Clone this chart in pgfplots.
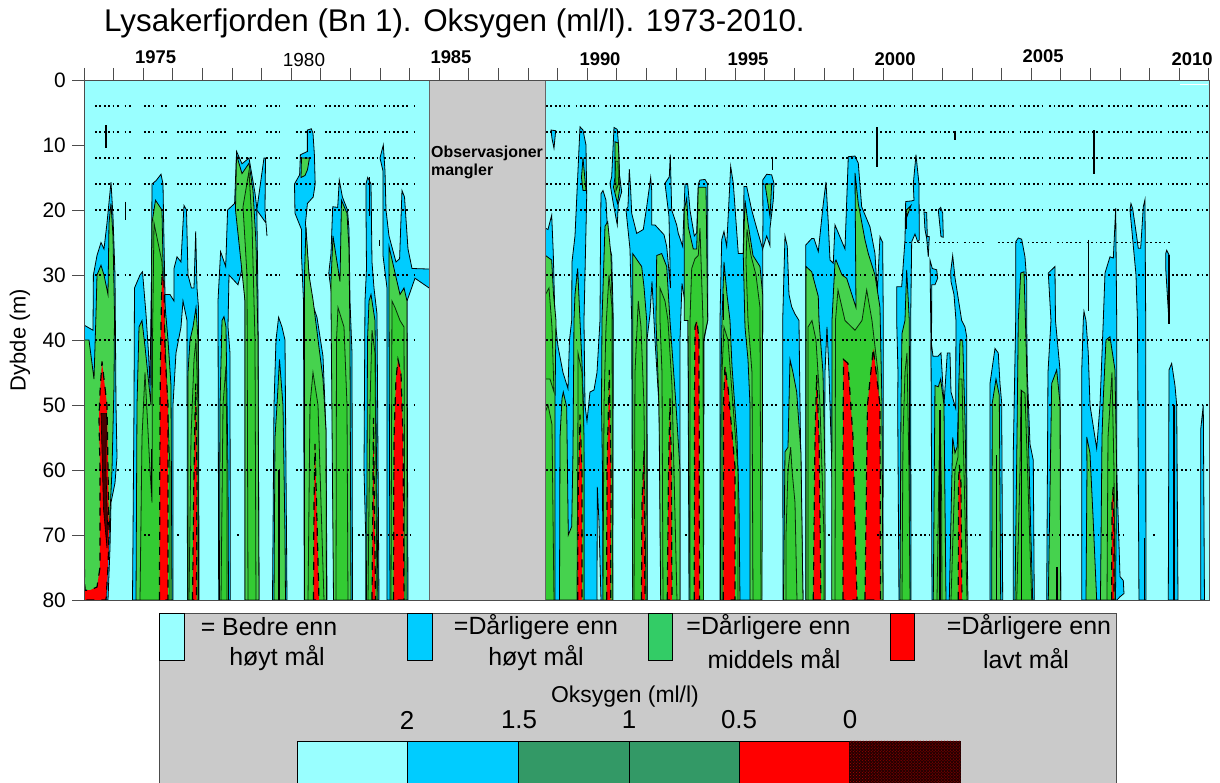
\documentclass[border=0pt]{standalone}
\usepackage{fontspec}
\setmainfont{Liberation Sans}
\usepackage{pgfplots}
\pgfplotsset{compat=1.18}
\usetikzlibrary{patterns}
\definecolor{cy}{HTML}{99FFFF}
\definecolor{bl}{HTML}{00CCFF}
\definecolor{gl}{HTML}{46D24E}
\definecolor{gd}{HTML}{33CC33}
\definecolor{rd}{HTML}{FF0000}
\definecolor{gy}{HTML}{CACACA}
\definecolor{lg}{HTML}{33CC66}
\definecolor{bg}{HTML}{339966}
\newcommand\fs[1]{\fontsize{#1}{#1}\selectfont}
% contour polygons: x read in pixels of the year scale (84 = 1973, 29.6 per year), y depth in m
\newcommand\Bl[1]{\addplot[fill=bl,draw=black,line width=0.8bp,forget plot] coordinates {#1} --cycle;}
\newcommand\Cy[1]{\addplot[fill=cy,draw=black,line width=0.8bp,forget plot] coordinates {#1} --cycle;}
\newcommand\Gl[1]{\addplot[fill=gl,draw=black,line width=0.8bp,forget plot] coordinates {#1} --cycle;}
\newcommand\Gd[1]{\addplot[fill=gd,draw=black!80!gd,line width=0.8bp,forget plot] coordinates {#1} --cycle;}
\newcommand\Rd[1]{\addplot[fill=rd,draw=black,line width=1.2bp,dash pattern=on 8bp off 7bp,forget plot] coordinates {#1} --cycle;}
\newcommand\Bk[1]{\addplot[black,line width=1.1bp,forget plot] coordinates {#1};}
\tikzset{dotrow/.style={black,line width=1.4bp,dash pattern=on 1.8bp off 2.6bp on 1.8bp off 2.6bp on 1.8bp off 2.6bp on 1.8bp off 2.6bp on 1.8bp off 2.6bp on 1.8bp off 5.8bp}}
\newcommand\Dt[3]{\addplot[dotrow,forget plot] coordinates {(#1,#3)(#2,#3)};}
\begin{document}
\begin{tikzpicture}[x=1bp,y=1bp]
\useasboundingbox (0,0) rectangle (1220,783);
\begin{axis}[
  at={(84bp,183bp)},anchor=south west,
  width=1125bp,height=520bp,scale only axis,
  xmin=1973,xmax=2011,ymin=0,ymax=80,y dir=reverse,
  x filter/.expression={1973+(x-84)/29.605},
  axis background/.style={fill=cy},
  axis on top,
  xtick={1973,1974,...,2011},xticklabels={,,},
  ytick={0,10,...,80},
  tick align=outside,major tick length=12bp,
  xtick pos=upper,ytick pos=left,
  tick style={draw=black!70,line width=0.8bp},
  axis line style={draw=black!70,line width=0.9bp},
  yticklabel style={font=\fs{21},inner sep=0pt,xshift=-6bp},
  /pgf/number format/assume math mode=true,
]
% ---------- blue: worse than high target
\Bl{(84,37.7)(93,38.5)(93.4,30)(97,27)(101,25)(104,26)(107,22)(111,15.7)(113,21)(115,30)(116,50)(117,58)(115,62)(111,65)(110,72)(108,80)(84,80)}
\Bl{(132.5,80)(134,50)(134.5,32)(140,30)(142.5,29.5)(146,36)(148.5,42)(150,47)(151.5,30)(152,16)(156,15.5)(161,14.5)(163,16)(164,25)(165,33)(165,80)}
\Bl{(199,80)(187.5,80)(187,37)(183,34)(181,38)(176,42)(173,50)(173,80)(165,80)(165,33)(170,33)(174,34)(174,29)(177,27.2)(181,28)(182,25)(184,19.3)(186.5,20)(188,30)(191.4,32)(194,32)(195.7,23.3)(197,32)(198.5,35)}
\Bl{(218.7,80)(218,34)(220.6,26.4)(225.7,28.7)(227.6,20)(234.6,19)(236.6,11)(242,12.9)(249,12)(255,17.4)(256.8,19.7)(258,34)(259,80)(245,80)(245,34)(243,28.5)(238,31.5)(229,30)(228,38)(230,42)(230.3,80)}
\Bl{(264,12)(265.5,12)(265,20)(267,24)(266,22)(256.8,20)}
\Bl{(272.5,80)(274,50)(276,40)(278.6,36.5)(282,38)(285,40)(287,80)}
\Bl{(304.3,80)(303.5,34)(301.5,27)(301.5,23)(295,20.5)(294.5,16)(299.6,14.6)(300.4,11.5)(307.4,11)(307.4,7.7)(311.3,7.5)(313,8.2)(314.4,11.5)(315.2,16)(313.2,18)(307.4,19)(305.5,22)(307,26)(311,33.8)(317,36.5)(323,42.5)(326,54)(327,80)}
\Bl{(333.8,80)(332.5,34)(328.8,29.7)(331,26.7)(332.7,19.5)(337.7,19.6)(339.3,15.4)(342.4,18)(347.5,20)(349,23)(350,34)(352,42)(352.5,80)}
\Bl{(365.7,80)(365.7,70)(364,60)(365,34)(366.5,29)(366,20)(366,16)(367.7,15)(371,16)(372,28)(374,32)(377,36)(379,80)}
\Bl{(387,80)(387,40)(387,32)(383,27)(383,14)(380,12)(383.3,10)(385,14)(386,20)(389,24)(396,28)(399.6,27.5)(402,17)(404.5,18)(408,26)(412,29)(432,29.1)(432,32.3)(415,30.5)(410,32.7)(407,34)(408,80)}
\Bl{(551,7.7)(555.7,7.8)(554,10.5)(552,9)}
\Bl{(545.5,22.8)(548,23)(551.7,20.8)(553.3,26.7)(555,37)(558,41)(563,45)(568,47.5)(569.5,40)(571.7,37)(572,28)(575,24)(580,7.2)(583,7.7)(586,10)(586.7,18)(584,37)(585,50)(587,52.5)(590,48)(594,47.7)(597,45)(600,37)(600.5,25)(601,17.5)(603,17)(606,18.5)(608,24.6)(611.7,27)(613.3,37)(612.7,80)(545.5,80)}
\Cy{(597,80)(597.3,62.6)(599,68)(601,80)}
\Bl{(614,7.3)(617.3,7.6)(618.7,10.3)(619.3,14.4)(621.7,17.2)(618.3,19)(617.3,22.3)(613.3,19)(610,15.9)(611.7,14.9)}
\Bl{(632.7,80)(631.7,37)(630,26)(626,20)(628,19.5)(629.3,13.7)(630.7,17)(631.7,20.5)(636.7,23.6)(643.3,23)(646.7,19.5)(650.7,15)(651.7,17)(651.7,22.3)(655,22.3)(664,23.8)(666.7,25.6)(670.5,32)(669,21)(665,15.9)(669.3,14.9)(670.3,11.5)(671.7,20)(676.7,22.3)(678.3,23.6)(682.7,25.6)(685,16)(687.7,16)(690,20)(694.3,24)(696.7,23.5)(698.3,16)(700,15.4)(705,15.3)(707.7,16)(707.7,37)(704,40)(703.5,80)(689,80)(688,37)(682,31.3)(680,40)(680,80)(660.7,80)(660,60)(659,50)(655,40)(652,31)(650,36)(647,40)(647.3,80)}
\Bl{(720,80)(720,37)(721.7,24.6)(724,23.3)(726.7,25.6)(730.7,13.3)(733.3,15.9)(738.3,26.7)(743.3,26.7)(744,16.4)(746.7,16.4)(751.7,20)(756.7,22.8)(762.7,26)(762.7,37)(761,80)}
\Bl{(762.7,26)(763,21)(762.7,15.4)(766.7,14.5)(771.7,14.6)(774,15.9)(773.3,18.5)(770,22.8)(770,25.5)(766.7,24)}
\Bl{(783,80)(782.7,37)(785,24)(787.3,25.6)(789,33)(791.7,34.9)(795,36)(799,37)(800,50)(803,80)}
\Bl{(805.7,80)(805.7,25.4)(811.7,24.4)(814,24.4)(818.3,26.4)(823.3,19)(826,15.7)(828.3,22)(830,27.7)(833.3,28.2)(835,22.3)(845,26)(848.3,11.8)(855,11.7)(858.3,12.8)(861.7,19.5)(870,22.6)(875,26.7)(877.3,32.8)(880,24.1)(882.7,25)(883.3,37)(883,80)(835,80)(832,60)(829,45)(827,38)(825,45)(824.7,55)(825,80)}
\Bl{(899,80)(897.7,50)(898,45)(896.7,37)(896.7,31.8)(901.7,31.8)(905,24.6)(905.7,18.7)(911.7,18.6)(914,18.5)(913.3,16)(916,11.5)(919,16)(919.3,24.6)(917.7,24.9)(915,23.7)(911.7,24.9)(910.7,37)(911,80)}
\Bl{(924,20.3)(926.7,20.4)(927.3,24.1)(929.3,24.1)(928.3,27.2)(926.7,24.4)(925,23)}
\Bl{(938.3,20)(940.7,19.6)(942.7,20.5)(943.3,24.2)(941,24.1)}
\Bl{(930,27.7)(932.3,29)(936.7,29.2)(937.7,30.5)(935,31.5)(931.7,31.5)(931.5,45)(931,40)}
\Bl{(950.7,29.5)(952.7,27)(955,30.4)(961.7,37)(965,38)(966.7,39.5)(967,80)(932,80)(931,40)(933,42.5)(938,42.5)(941,42)(944,50)(947.3,42)(950,42)(951,48)(955.7,50.5)(956,37)(954,33)(951,31)}
\Bl{(990,80)(990,46.7)(995,41.3)(998.3,42)(1000,46.7)(1001.7,49.7)(1002.7,80)}
\Bl{(1013.3,80)(1013.3,57.4)(1015.7,37)(1015.7,24.9)(1018.3,24.3)(1021.7,24.5)(1025,27.2)(1026.7,30.8)(1026.7,37)(1027.3,45)(1030,56)(1033.3,58.5)(1034.3,80)}
\Bl{(1046.7,80)(1048,45)(1051,37)(1048.3,29.7)(1055,28.7)(1055.5,37)(1060,44.6)(1060.7,80)}
\Bl{(1081.7,80)(1081.7,45)(1083.3,37)(1084,35.6)(1086,37)(1088.3,42)(1090,50)(1096.7,56.7)(1100,50)(1103.3,37)(1105,29.7)(1110,27.2)(1113.3,27.4)(1115.7,19.7)(1116.7,37)(1116.7,60)(1120,76.4)(1123.3,77)(1124,79)(1120,79.5)(1117,80)}
\Bl{(1130,20)(1131,19)(1132.7,19.8)(1136.7,24.1)(1138.3,25.9)(1140.7,25.9)(1143.3,19.5)(1145,18.4)(1145.7,37)(1146,80)(1139,80)(1137.5,37)(1136,30)}
\Bl{(1165.7,26.7)(1166.7,26.2)(1169.3,27)(1169.3,36.5)(1168.7,36.5)(1165.7,29)}
\Bl{(1168.3,80)(1169,44.6)(1171.7,43.6)(1175,47)(1176.7,50)(1178,80)}
\Bl{(1200.7,80)(1200.7,53.8)(1203.3,50)(1204.5,80)}
% ---------- green: worse than middle target
\Gl{(84,40)(89,40)(94,46)(96,36)(97,30)(101,28.5)(104,30)(108,33)(109,22)(111,19)(113,24)(114.5,36)(114,47)(112,60)(109,70)(106,80)(84,80)}
\Gl{(136,80)(137,50)(139,38)(142,37)(145,41)(149,47)(151,50)(151.5,35)(152,22)(155.5,18.5)(162,20)(163.5,32)(168,40)(171,47)(172,80)}
\Gl{(188,80)(188,45)(190,40)(193,38)(196,35)(198,40)(198.5,80)}
\Gl{(219.5,80)(220,50)(222,37)(224,36.4)(226,38)(228,60)(228.5,80)}
\Gl{(235.5,20)(241,28)(245,34)(245,80)(259,80)(258,40)(256,25)(253,17)(249,12.8)(242,14.4)(236.5,11.5)}
\Gl{(274,80)(275,55)(277,50)(279.5,43)(283,50)(285,70)(285.5,80)}
\Gl{(301.5,12)(309.5,12)(307.5,13.8)(305,14.7)(301,15)}
\Gl{(304.5,80)(304.5,30)(306,22.6)(309,30)(313,33.8)(323,46)(326,54)(326.5,80)}
\Gl{(333.5,80)(331,34)(331,31)(333,24)(340,31)(341.5,18.5)(347,20.5)(349,26)(350,40)(351,80)}
\Gl{(366.5,80)(367,60)(367.5,40)(369,34)(371,33)(375,37)(378,80)}
\Gl{(390,80)(389,34)(389,25.6)(397,31)(400,33)(404,32)(407,34)(407,80)}
\Gl{(545.5,27)(551.7,27.7)(553.5,33)(556,37)(555,50)(555,80)(545.5,80)}
\Gl{(559.5,80)(560,55)(562,49)(563.3,48)(566.7,50.3)(568.3,70)(571.7,68.7)(573,57)(574,37)(575,33)(577.7,29)(580,37)(582,43.6)(583.5,50)(584,60)(584,80)}
\Gl{(581.5,15)(583,12)(586,17)(583,17)}
\Gl{(602,37)(605,22.5)(607.7,21.8)(611,27)(612.7,37)(612.7,80)(603,80)(602.5,60)(601.5,50)}
\Gl{(615,9.5)(618.3,9.7)(620,16.4)(617.5,19)(613.5,16.5)(615,15)}
\Gl{(632.7,26.7)(641.7,28.7)(644,31.8)(646.7,37)(647,80)(632.7,80)}
\Gl{(660.7,80)(659,50)(656,37)(656.7,27)(661.7,26.7)(666.7,28.7)(670,37)(676,50)(680,60)(680,80)}
\Gl{(684.3,37)(684.3,20)(686.7,18.2)(688.3,22.6)(693.3,26)(696.7,26)(698.3,16.5)(706,16.5)(707.7,37)(703.5,40)(703.5,80)(690,80)(688,37)}
\Gl{(720.5,80)(721,45)(722,37)(724,28)(727,33)(730,37)(732,44)(737,55)(739,65)(740,80)}
\Gl{(750,80)(750,50)(748,43)(745,38)(743.3,27)(745,18.5)(748,22)(753,27)(760,28.7)(762.7,33)(762,80)}
\Gl{(765,16)(771.7,16)(770,21)(767,18)}
\Gl{(783.5,80)(785,57.2)(788,56.5)(790,43)(793,45)(796.7,48)(801,57.5)(803,80)}
\Gl{(806,80)(806,28.7)(811.7,29.5)(818.3,33.3)(819,37)(823,45)(825,60)(825,80)}
\Gl{(831.7,80)(832,37)(835,28)(836,27.7)(842,30)(846.7,30.5)(856,35)(855,14.3)(858.3,19)(865,24.6)(868.3,26.7)(875,30)(880,35)(882,50)(883,80)}
\Gl{(900,80)(901,50)(902,39)(905,37)(906.7,29.2)(909.3,37)(910,80)}
\Gl{(906.5,20)(911,19.3)(907,21)}
\Gl{(933.3,80)(935,47)(938.3,47.2)(940.7,46)(944,50)(946,80)}
\Gl{(949.3,80)(952.7,55)(955,57.4)(957.3,56.4)(960,40)(962.7,40)(965,52)(968,80)}
\Gl{(991.7,80)(992.3,49.7)(996,46)(999.3,48.5)(1000.7,80)}
\Gl{(1015,80)(1017,55)(1018.3,37)(1020.7,29.7)(1024,29.5)(1026,40)(1030,65)(1032.7,80)}
\Gl{(1048.3,80)(1051.7,46.7)(1056.7,44.6)(1060,49.7)(1060.7,80)}
\Gl{(1086,80)(1087,60)(1086.7,54.9)(1090,57.4)(1093,67)(1096.7,80)}
\Gl{(1100.5,80)(1102,55)(1103.3,49)(1106,40)(1110,39.5)(1115,44.6)(1116.7,60)(1115.5,80)}
% ---------- darker green bands
\Gd{(140,80)(142,55)(145,45)(150,60)(152,65)(152.5,40)(154,22)(162,28)(165,40)(170,60)(170,80)}
\Gd{(189,80)(191,55)(194,43)(196,40)(198,50)(198,80)}
\Gd{(221,80)(223,50)(226,44)(227,60)(227,80)}
\Gd{(248,80)(247,30)(243,19.5)(249,14)(252,22)(255,40)(256,80)}
\Gd{(308,80)(310,50)(313,45)(318,50)(324,80)}
\Gd{(336,80)(336.5,40)(338,35)(344,38)(347,50)(348,80)}
\Gd{(368,80)(370,50)(372,38.5)(375,42)(377,80)}
\Gd{(391,80)(392,34)(395,35)(400,37)(404,38)(405,80)}
\Gd{(545.5,33)(549,32)(552,38)(554,48)(550,46)(545.5,46)}
\Gd{(545.5,80)(545.5,51)(548,50)(552,53)(554,80)}
\Gd{(577,80)(578,50)(578,42)(582,45)(584,55)(584,80)}
\Gd{(603,80)(604,50)(606,38)(609,30)(612,35)(612.7,80)}
\Gd{(615.5,12.5)(618,12.5)(618.5,16)(616,17)}
\Gd{(634,80)(635,45)(638.3,34)(641,38)(644,50)(646,80)}
\Gd{(663,80)(662,45)(660,37)(660,32)(665,34)(668,37)(672,47)(677,80)}
\Gd{(690,80)(690,37)(691.7,29)(695,27.5)(698.3,27)(700,22.8)(703,37)(703.5,80)}
\Gd{(722,80)(722,45)(724,38)(728,40)(733,50)(738,60)(738,80)}
\Gd{(753,80)(752,45)(748,37)(746,28)(747,23)(751,27)(756,30)(760,35)(761,80)}
\Gd{(786,80)(786,70)(788,60)(790.7,56.5)(792,60)(795,65)(797,80)}
\Gd{(808,80)(808,38)(812,37)(816,40)(820,50)(824,70)(824,80)}
\Gd{(835,80)(835.5,37)(838,32.3)(845,37)(855,38.5)(862,37)(866.7,32.3)(872,37)(878,45)(880,80)}
\Gd{(902,80)(903,55)(905,45)(907,42)(909,60)(910,80)}
\Gd{(937,80)(939,60)(940,50.8)(941.7,65)(942,80)}
\Gd{(951,80)(955,60)(958,58)(959,46)(962,46)(964,60)(967,80)}
\Gd{(1016.7,80)(1020,60)(1021,47.7)(1025,48.2)(1028,62)(1031.7,80)}
\Gd{(1107,80)(1108,55)(1112,45)(1114,60)(1115,80)}
% ---------- red: worse than low target
\Rd{(84,73)(85,78.5)(90,78.5)(97,78)(100,75)(100,60)(99,52)(100,48)(102,43.3)(104,46)(107,50)(108,60)(109,70)(108,75)(106,80)(84,80)}
\Rd{(159.5,80)(160,50)(161,38)(162,30)(164,31)(165,42)(168,50)(168,80)}
\Rd{(192.5,80)(194,60)(195.7,46.7)(197,60)(196.5,80)}
\Rd{(313.5,80)(314,65)(315,56)(316.5,65)(319,80)}
\Rd{(372,80)(373.5,52)(375.5,80)}
\Rd{(393.5,80)(394,55)(396,46)(398,43)(401,45)(403,55)(404,80)}
\Rd{(577.7,80)(578,65)(580,51.5)(582,60)(582,80)}
\Rd{(606.7,80)(607,60)(609.3,44.6)(611,60)(610.7,80)}
\Rd{(641.5,80)(642,65)(644,57)(645,80)}
\Rd{(667.3,80)(668.5,60)(670,49)(671.5,60)(672,80)}
\Rd{(694.3,80)(694.5,50)(695,38)(697,37)(699,40)(699.5,80)}
\Rd{(723.3,80)(723.5,50)(725,44)(728.3,47.7)(730.7,52)(735,59.5)(735,80)}
\Rd{(813.3,80)(815,55)(816.7,45.4)(819,55)(821,80)}
\Rd{(843,80)(843,60)(843.5,43)(848,43.6)(853,55)(857,80)}
\Rd{(865,80)(867.5,50)(873.3,41.3)(880,50)(880.5,80)}
\Rd{(958.3,80)(958.5,62)(959.3,59.2)(961,62)(962,80)}
\Rd{(1111.7,80)(1112,65)(1113.3,62.6)(1114,70)(1114,80)}
% below zero
\addplot[fill=black!70!rd,draw=black,line width=0.6bp,forget plot] coordinates {(101,51.3)(106.5,51.3)(106,60)(107.5,68)(107,72)(103.5,66)} --cycle;
% ---------- single-sample contours
\Bk{(106,7)(106,10.5)} \Bk{(125.7,18.7)(125.7,21.5)} \Bk{(151.8,56.7)(151.8,63.5)} \Bk{(279,60)(279,80)}
\Bk{(369.7,15)(369.7,21)} \Bk{(379.4,24.6)(379.4,25.5)} \Bk{(772.3,11.8)(772.3,13.8)} \Bk{(877,7.3)(877,13.4)}
\Bk{(955,7.8)(955,9.2)} \Bk{(1094,7.7)(1094,14.5)} \Bk{(1088.5,24.6)(1088.5,35.6)} \Bk{(906,20.5)(906,23)}
\Bk{(996.7,57.7)(996.7,80)} \Bk{(1021.5,47.7)(1021.5,80)} \Bk{(1057,74.9)(1057,80)} \Bk{(940,50.8)(940,80)}
\Bk{(1174,50)(1174,80)} \Bk{(1144.5,70.5)(1144.5,80)} \Bk{(1169,27)(1169,37.5)} \Bk{(723.3,33)(723.3,37)}
% ---------- sample rows
\pgfplotsinvokeforeach{4,8,12,16,20,30,40,50,60}{
\Dt{95}{132}{#1}\Dt{144}{154}{#1}\Dt{161}{167}{#1}\Dt{177}{228}{#1}\Dt{237}{257}{#1}\Dt{266}{280}{#1}\Dt{296}{315}{#1}\Dt{325}{414}{#1}
\Dt{546}{1208}{#1}
}
\Dt{905}{985}{25}\Dt{998}{1170}{25}
\Dt{144}{150}{70}\Dt{177}{179}{70}\Dt{237}{239}{70}\Dt{358}{414}{70}\Dt{577}{595}{70}\Dt{685}{687}{70}\Dt{828}{830}{70}\Dt{877}{983}{70}\Dt{1000}{1123}{70}\Dt{1153}{1155}{70}
\addplot[white,line width=1.2bp,forget plot] coordinates {(1180,0.7)(1208,0.7)};
% ---------- period without observations
\addplot[fill=gy,draw=black!60,line width=0.9bp,forget plot] coordinates {(429.7,0)(545.5,0)(545.5,80)(429.7,80)} --cycle;
\end{axis}
% title and year labels
\node[anchor=base west,inner sep=0pt,font=\fs{31.5}] at (104,751) {Lysakerfjorden (Bn 1). Oksygen (ml/l). 1973-2010.};
\foreach \x/\y/\t in {155.6/57/1975,451/57/1985,600/59/1990,748/59/1995,895/59/2000,1043/56/2005,1192/59/2010}
  \node[inner sep=0pt,font=\fs{18.5}\bfseries] at (\x,783-\y) {\t};
\node[inner sep=0pt,font=\fs{19}] at (304,723) {1980};
\node[rotate=90,inner sep=0pt,font=\fs{22}] at (20,443) {Dybde (m)};
\node[anchor=west,inner sep=0pt,font=\fs{16}\bfseries] at (431,630) {Observasjoner};
\node[anchor=west,inner sep=0pt,font=\fs{16}\bfseries] at (431,612) {mangler};
% legend panel
\fill[gy] (159,0) rectangle (1116,170);
\draw[black!70,line width=0.8bp] (159,0) -- (159,170) -- (1116,170) -- (1116,0);
\foreach \a/\b/\c in {159/184/cy,407.5/432/bl,648/672.5/lg,890/914/rd}
  \filldraw[fill=\c,draw=black,line width=0.6bp] (\a,123) rectangle (\b,170);
\foreach \x/\y/\t in {269/156/{= Bedre enn},277/124.5/{høyt mål},536/156/{=Dårligere enn},536/124.5/{høyt mål},768.5/156/{=Dårligere enn},774/124.5/{middels mål},1029/156/{=Dårligere enn},1026/124.5/{lavt mål}}
  \node[inner sep=0pt,font=\fs{25}] at (\x,\y) {\t};
\node[inner sep=0pt,font=\fs{23}] at (625,86) {Oksygen (ml/l)};
\foreach \x/\t in {407/2,519/1.5,629/1,739/0.5,850/0}
  \node[inner sep=0pt,font=\fs{26}] at (\x,63) {\t};
\foreach \a/\b/\c in {297/407.5/cy,407.5/518/bl,518/629/bg,629/739.4/bg,739.4/849.4/rd}
  \filldraw[fill=\c,draw=black,line width=0.6bp] (\a,0) rectangle (\b,42);
\fill[black!85!rd] (849.4,0) rectangle (960.6,42);
\fill[pattern=crosshatch dots,pattern color=rd!70!black] (849.4,0) rectangle (960.6,42);
\end{tikzpicture}
\end{document}
